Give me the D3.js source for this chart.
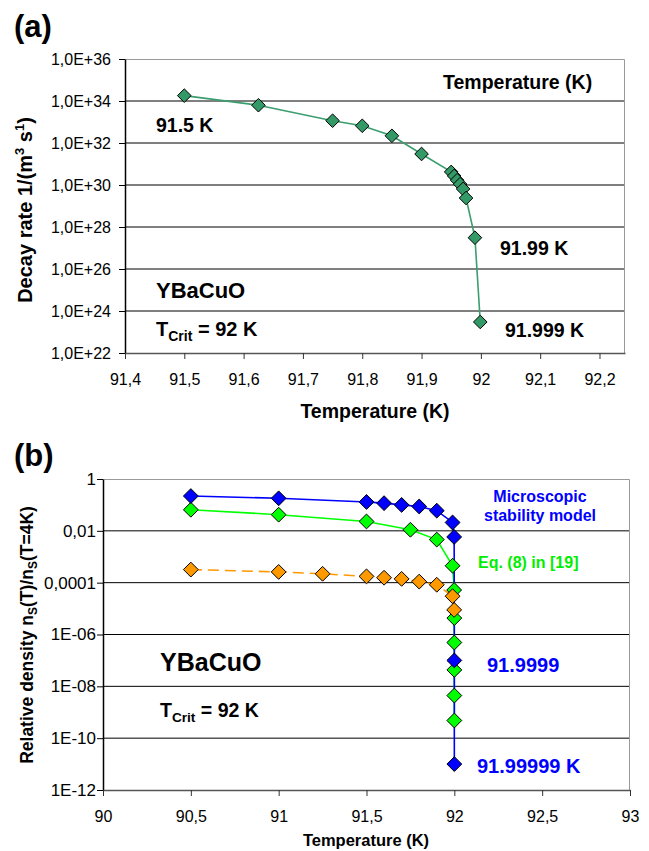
<!DOCTYPE html>
<html>
<head>
<meta charset="utf-8">
<script src="https://cdn.jsdelivr.net/npm/d3@7"></script>
<style>
  body { margin: 0; background: #fff; }
  svg { font-family: "Liberation Sans", Arial, sans-serif; }
</style>
</head>
<body>
<div id="chart"></div>
<script>
// panel (a): decay rate vs temperature
const tempA = [91.5, 91.625, 91.75, 91.8, 91.85, 91.9, 91.95, 91.955, 91.96, 91.965, 91.97, 91.975, 91.99, 91.999];
const rateA = [1.8e34, 6.3e33, 1.15e33, 6.6e32, 2.2e32, 3.0e31, 4.2e30, 2.7e30, 1.7e30, 1.1e30, 6.5e29, 2.4e29, 3.1e27, 3.0e23];
const yTicksA = [1e36, 1e34, 1e32, 1e30, 1e28, 1e26, 1e24, 1e22];
const yLabelsA = ["1,0E+36", "1,0E+34", "1,0E+32", "1,0E+30", "1,0E+28", "1,0E+26", "1,0E+24", "1,0E+22"];
const xTicksA = [91.4, 91.5, 91.6, 91.7, 91.8, 91.9, 92, 92.1, 92.2];
const xLabelsA = ["91,4", "91,5", "91,6", "91,7", "91,8", "91,9", "92", "92,1", "92,2"];

// panel (b): relative density vs temperature
const blueT = [90.5, 91, 91.5, 91.6, 91.7, 91.8, 91.9, 91.99, 91.999, 91.9999, 91.99999];
const blueN = [0.22, 0.18, 0.13, 0.117, 0.10, 0.087, 0.06, 0.021, 0.0058, 1.0e-7, 1.0e-11];
const greenT = [90.5, 91, 91.5, 91.75, 91.9, 91.99, 91.999, 91.9999, 91.99999, 91.999999, 91.9999999, 91.99999999];
const greenN = [0.065, 0.042, 0.023, 0.011, 0.0046, 0.00045, 5.2e-5, 4.3e-6, 4.9e-7, 4.3e-8, 4.4e-9, 4.8e-10];
const orangeT = [90.5, 91, 91.25, 91.5, 91.6, 91.7, 91.8, 91.9, 91.99, 91.999];
const orangeN = [3.2e-4, 2.6e-4, 2.2e-4, 1.75e-4, 1.55e-4, 1.4e-4, 1.1e-4, 8.3e-5, 3.0e-5, 8.9e-6];
const yTicksB = [1, 1e-2, 1e-4, 1e-6, 1e-8, 1e-10, 1e-12];
const yLabelsB = ["1", "0,01", "0,0001", "1E-06", "1E-08", "1E-10", "1E-12"];
const xTicksB = [90, 90.5, 91, 91.5, 92, 92.5, 93];
const xLabelsB = ["90", "90,5", "91", "91,5", "92", "92,5", "93"];

const width = 649, height = 851;

const svg = d3.select("#chart").append("svg")
    .attr("width", width)
    .attr("height", height);

svg.append("rect").attr("width", width).attr("height", height).attr("fill", "#fff");

const diamond = d3.symbol().type(d3.symbolDiamond2);

function zip(a, b) { return a.map((v, i) => [v, b[i]]); }

function drawFrame(x, y, yTicks, yLabels, xTicks, xLabels, ySize, yPad) {
    const [x0, x1] = x.range();
    const [y0, y1] = y.range();
    const g = svg.append("g");

    // gridlines (skip top, it is the frame)
    g.append("g").selectAll("line")
        .data(yTicks.slice(1, -1))
        .join("line")
        .attr("x1", x0).attr("x2", x1)
        .attr("y1", d => y(d)).attr("y2", d => y(d))
        .attr("stroke", "#000").attr("stroke-width", 1);

    // frame top and right
    g.append("path")
        .attr("d", `M${x0},${y1 + 0.5}H${x1 - 0.5}V${y0}`)
        .attr("fill", "none").attr("stroke", "#999").attr("stroke-width", 1);

    const ya = g.append("g")
        .attr("transform", `translate(${x0},0)`)
        .call(d3.axisLeft(y).tickValues(yTicks).tickFormat((d, i) => yLabels[i])
            .tickSize(6).tickPadding(yPad).tickSizeOuter(0));
    ya.selectAll("text").attr("font-size", ySize).attr("fill", "#000")
        .attr("font-family", "Liberation Sans, Arial, sans-serif");
    ya.select(".domain").attr("stroke", "#000").attr("stroke-width", 1.5);

    const xa = g.append("g")
        .attr("transform", `translate(0,${y0})`)
        .call(d3.axisBottom(x).tickValues(xTicks).tickFormat((d, i) => xLabels[i])
            .tickSize(6).tickPadding(14.6).tickSizeOuter(0));
    xa.selectAll("text").attr("font-size", 16).attr("fill", "#000")
        .attr("font-family", "Liberation Sans, Arial, sans-serif");
    xa.select(".domain").attr("stroke", "#555").attr("stroke-width", 1.5);
    xa.selectAll(".tick line").attr("stroke", "#333");
}

function label(x, y, txt, size, color, anchor) {
    return svg.append("text")
        .attr("x", x).attr("y", y)
        .attr("font-size", size)
        .attr("font-weight", "bold")
        .attr("fill", color || "#000")
        .attr("text-anchor", anchor || "start")
        .text(txt);
}

function tcrit(x, y, size) {
    const t = svg.append("text").attr("x", x).attr("y", y)
        .attr("font-size", size).attr("font-weight", "bold");
    t.append("tspan").text("T");
    t.append("tspan").attr("font-size", size * 0.7).attr("dy", size * 0.25).text("Crit");
    t.append("tspan").attr("dy", -size * 0.25).text(" = 92 K");
}

// ---------- panel (a) ----------
const xA = d3.scaleLinear().domain([91.4, 92.243]).range([125, 625]);
const yA = d3.scaleLog().domain([1e22, 1e36]).range([353, 59]);

drawFrame(xA, yA, yTicksA, yLabelsA, xTicksA, xLabelsA, 16, 8);

const dataA = zip(tempA, rateA);
svg.append("path")
    .datum(dataA)
    .attr("fill", "none")
    .attr("stroke", "#3a9e6e")
    .attr("stroke-width", 1.6)
    .attr("d", d3.line().x(d => xA(d[0])).y(d => yA(d[1])));

svg.append("g").selectAll("path")
    .data(dataA)
    .join("path")
    .attr("transform", d => `translate(${xA(d[0])},${yA(d[1])})`)
    .attr("d", diamond.size(118))
    .attr("fill", "#339966")
    .attr("stroke", "#000")
    .attr("stroke-width", 1);

label(14, 37, "(a)", 31);
label(443, 89, "Temperature (K)", 19.5);
label(156, 132, "91.5 K", 19.5);
label(500, 255, "91.99 K", 19.5);
label(505, 336.5, "91.999 K", 19.5);
label(156, 298, "YBaCuO", 22);
tcrit(156, 336, 20);
label(375, 418, "Temperature (K)", 19.5, "#000", "middle");

const yTitleA = svg.append("text")
    .attr("transform", "translate(32,210) rotate(-90)")
    .attr("text-anchor", "middle")
    .attr("font-size", 20)
    .attr("font-weight", "bold");
yTitleA.append("tspan").text("Decay rate 1/(m");
yTitleA.append("tspan").attr("font-size", 13).attr("dy", -8).text("3");
yTitleA.append("tspan").attr("dy", 8).text(" s");
yTitleA.append("tspan").attr("font-size", 13).attr("dy", -8).text("1");
yTitleA.append("tspan").attr("dy", 8).text(")");

// ---------- panel (b) ----------
const xB = d3.scaleLinear().domain([90, 93]).range([103, 630]);
const yB = d3.scaleLog().domain([1e-12, 1]).range([790, 479]);

drawFrame(xB, yB, yTicksB, yLabelsB, xTicksB, xLabelsB, 17, 1);

const lineB = d3.line().x(d => xB(d[0])).y(d => yB(d[1]));
const blueData = zip(blueT, blueN);
const greenData = zip(greenT, greenN);
const orangeData = zip(orangeT, orangeN);

svg.append("path").datum(orangeData).attr("fill", "none")
    .attr("stroke", "#ff9900").attr("stroke-width", 1.6)
    .attr("stroke-dasharray", "11,6").attr("d", lineB);
svg.append("path").datum(greenData).attr("fill", "none")
    .attr("stroke", "#00ff00").attr("stroke-width", 1.6).attr("d", lineB);
svg.append("path").datum(blueData).attr("fill", "none")
    .attr("stroke", "#0000ff").attr("stroke-width", 1.6).attr("d", lineB);

function markers(data, fill) {
    svg.append("g").selectAll("path")
        .data(data)
        .join("path")
        .attr("transform", d => `translate(${xB(d[0])},${yB(d[1])})`)
        .attr("d", diamond.size(140))
        .attr("fill", fill)
        .attr("stroke", "#000")
        .attr("stroke-width", 1);
}
markers(greenData, "#00ff00");
markers(orangeData, "#ff9900");
markers(blueData, "#0000ff");

label(14, 466, "(b)", 31);
label(540, 502, "Microscopic", 16, "#0000ff", "middle");
label(540, 521, "stability model", 16, "#0000ff", "middle");
label(478, 568, "Eq. (8) in [19]", 16, "#00ee00");
label(487, 671.5, "91.9999", 20, "#0000ff");
label(477, 772.5, "91.99999 K", 20, "#0000ff");
label(160, 670.5, "YBaCuO", 25);
tcrit(160, 717, 19.5);
label(366, 846, "Temperature (K)", 16.5, "#000", "middle");

const yTitleB = svg.append("text")
    .attr("transform", "translate(33,635) rotate(-90)")
    .attr("text-anchor", "middle")
    .attr("font-size", 17.5)
    .attr("font-weight", "bold");
yTitleB.append("tspan").text("Relative density n");
yTitleB.append("tspan").attr("font-size", 12).attr("dy", 4).text("S");
yTitleB.append("tspan").attr("dy", -4).text("(T)/n");
yTitleB.append("tspan").attr("font-size", 12).attr("dy", 4).text("S");
yTitleB.append("tspan").attr("dy", -4).text("(T=4K)");
</script>
</body>
</html>
